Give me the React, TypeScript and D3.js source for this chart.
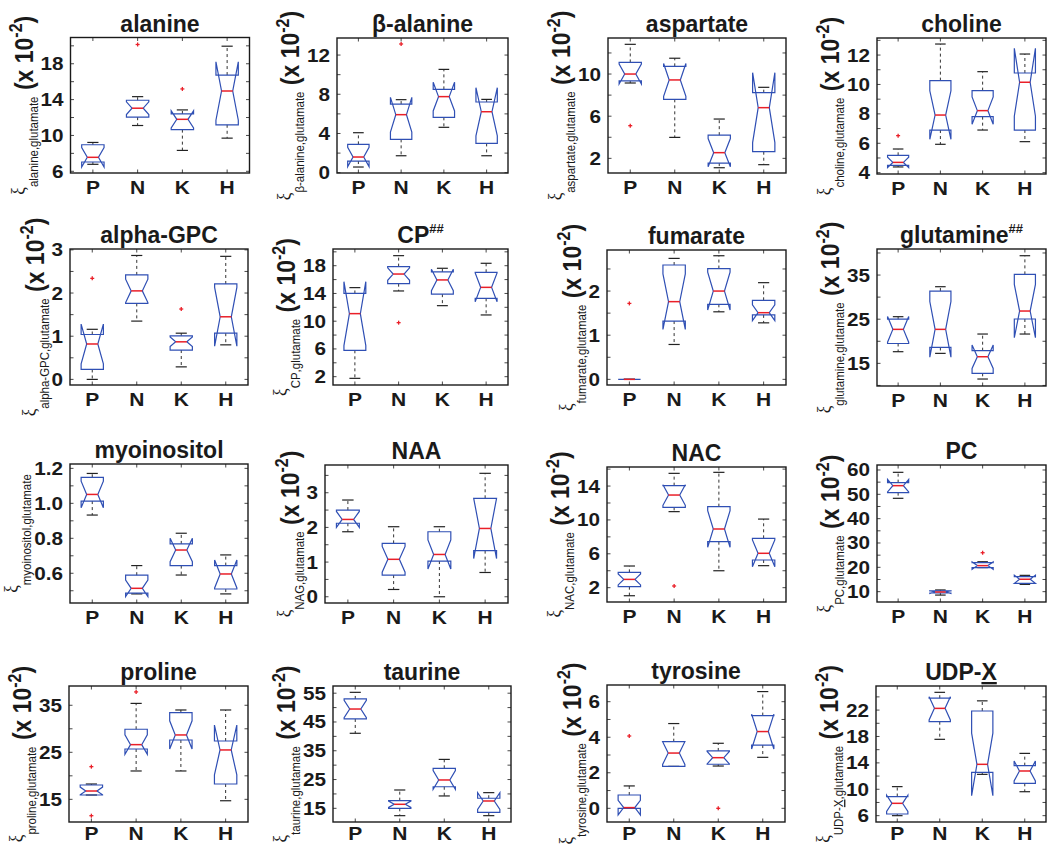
import React from "react";
import * as d3 from "d3";

const groups = ["P", "N", "K", "H"];

// per group: [lower whisker, Q1, notch low, median, notch high, Q3, upper whisker]
const alanine = [
  [6.78, 7.04, 6.48, 7.56, 8.64, 8.96, 9.22],
  [11.11, 12.04, 12.33, 13.04, 13.75, 13.93, 14.33],
  [8.33, 10.65, 10.85, 11.8, 12.75, 12.4, 12.85],
  [9.7, 11.19, 11.7, 14.96, 18.22, 16.74, 19.96],
];
const alanineOut = [[], [20.15], [15.19], []];

const betaAlanine = [
  [0.58, 1.19, 0.62, 1.6, 2.58, 2.89, 4.08],
  [1.73, 3.4, 4.15, 5.92, 7.69, 7.0, 7.45],
  [4.63, 5.65, 6.3, 7.76, 9.22, 8.5, 10.54],
  [1.73, 2.99, 3.77, 6.22, 8.67, 7.21, 7.48],
];
const betaAlanineOut = [[], [13.13], [], []];

const aspartate = [
  [9.15, 9.35, 9.05, 10.0, 10.95, 11.1, 12.82],
  [3.99, 7.6, 7.88, 9.44, 11.0, 10.73, 11.5],
  [1.11, 1.55, 1.2, 2.54, 3.88, 4.2, 5.73],
  [1.4, 2.63, 3.49, 6.81, 10.13, 8.23, 8.74],
];
const aspartateOut = [[5.1], [], [], []];

const choline = [
  [4.39, 4.5, 4.35, 4.7, 5.05, 5.18, 5.61],
  [5.93, 6.9, 6.27, 7.92, 9.57, 10.26, 12.75],
  [6.9, 7.81, 7.29, 8.22, 9.15, 9.58, 10.87],
  [6.11, 6.9, 7.84, 10.15, 12.46, 10.78, 12.07],
];
const cholineOut = [[6.52], [], [], []];

const alphaGPC = [
  [0.0, 0.23, 0.36, 0.82, 1.28, 1.04, 1.16],
  [1.35, 1.76, 1.78, 2.05, 2.32, 2.42, 2.87],
  [0.29, 0.68, 0.76, 0.87, 0.98, 1.01, 1.07],
  [0.8, 1.07, 0.77, 1.45, 2.13, 2.21, 2.85],
];
const alphaGPCOut = [[2.34], [], [1.63], []];

const cp = [
  [1.76, 5.8, 6.48, 11.09, 15.7, 14.0, 14.84],
  [14.36, 15.41, 15.9, 16.8, 17.7, 17.87, 19.45],
  [12.24, 13.9, 14.4, 15.95, 17.5, 17.1, 17.63],
  [10.9, 13.3, 12.8, 14.88, 16.96, 17.05, 18.35],
];
const cpOut = [[], [9.79], [], []];

const fumarate = [
  [0, 0, 0, 0, 0, 0, 0],
  [0.79, 1.32, 1.13, 1.76, 2.39, 2.59, 2.74],
  [1.53, 1.7, 1.57, 2.0, 2.43, 2.51, 2.8],
  [1.28, 1.46, 1.33, 1.51, 1.69, 1.79, 2.19],
];
const fumarateOut = [[1.72], [], [], []];

const glutamine = [
  [17.64, 19.5, 19.8, 22.7, 25.6, 25.0, 25.57],
  [17.26, 18.6, 16.4, 22.7, 29.0, 31.38, 32.36],
  [11.45, 12.74, 13.85, 16.5, 19.15, 17.87, 21.64],
  [21.64, 25.04, 20.8, 26.85, 32.9, 35.15, 39.38],
];
const glutamineOut = [[], [], [], []];

const myoinositol = [
  [0.933, 1.013, 0.975, 1.051, 1.127, 1.149, 1.171],
  [0.482, 0.486, 0.467, 0.514, 0.561, 0.589, 0.644],
  [0.59, 0.644, 0.666, 0.733, 0.8, 0.768, 0.829],
  [0.482, 0.51, 0.516, 0.596, 0.676, 0.644, 0.705],
];
const myoinositolOut = [[], [], [], []];

const naa = [
  [1.875, 2.12, 2.0, 2.23, 2.46, 2.5, 2.79],
  [0.21, 0.625, 0.71, 1.08, 1.45, 1.54, 2.02],
  [0.0, 1.03, 0.8, 1.22, 1.64, 1.875, 2.02],
  [0.7, 1.33, 1.1, 1.97, 2.84, 2.84, 3.56],
];
const naaOut = [[], [], [], []];

const nac = [
  [1.05, 2.12, 2.33, 2.98, 3.63, 3.81, 4.56],
  [10.98, 11.49, 11.73, 12.94, 14.15, 14.05, 15.5],
  [4.0, 7.43, 6.76, 8.93, 11.1, 11.57, 15.62],
  [4.6, 5.27, 4.48, 6.06, 7.64, 7.83, 10.1],
];
const nacOut = [[], [2.2], [], []];

const pc = [
  [48.36, 50.68, 50.96, 53.56, 56.16, 54.8, 59.04],
  [8.6, 9.45, 9.3, 9.86, 10.4, 10.3, 10.7],
  [19.9, 19.9, 19.2, 20.7, 22.2, 21.9, 22.3],
  [13.0, 13.4, 13.4, 15.1, 16.8, 16.2, 16.7],
];
const pcOut = [[], [], [26.0], []];

const proline = [
  [15.92, 15.92, 15.95, 16.77, 17.6, 18.05, 18.26],
  [21.03, 25.7, 24.57, 26.63, 28.7, 29.9, 35.4],
  [21.03, 27.62, 25.7, 28.69, 31.7, 33.44, 34.0],
  [14.7, 18.26, 20.2, 25.5, 30.8, 27.4, 34.0],
];
const prolineOut = [[21.95, 11.52], [37.84], [], []];

const taurine = [
  [41.07, 46.05, 46.5, 49.5, 52.5, 53.0, 55.3],
  [12.45, 15.0, 15.3, 16.4, 17.5, 17.67, 21.37],
  [19.3, 22.5, 21.6, 24.85, 28.1, 28.9, 32.0],
  [12.45, 13.6, 14.65, 17.55, 20.45, 18.5, 20.45],
];
const taurineOut = [[], [], [], []];

const tyrosine = [
  [0.0, 0.0, -0.37, 0.04, 0.45, 0.75, 1.26],
  [2.36, 2.36, 2.47, 3.11, 3.75, 3.75, 4.77],
  [2.38, 2.48, 2.5, 2.85, 3.2, 3.23, 3.66],
  [2.87, 3.56, 3.34, 4.32, 5.3, 5.22, 6.57],
];
const tyrosineOut = [[4.07], [], [0.0], []];

const udpX = [
  [6.0, 6.25, 6.64, 7.87, 9.1, 8.9, 10.4],
  [17.57, 20.24, 20.5, 22.26, 24.03, 23.8, 24.69],
  [12.26, 12.57, 9.03, 13.78, 18.5, 21.86, 23.4],
  [9.63, 10.9, 11.26, 12.77, 14.28, 13.58, 15.44],
];
const udpXOut = [[], [], [], []];

// titles: [main text, superscript, underlined tail]
const titles = [
  ["alanine", "", ""], ["\u03b2-alanine", "", ""], ["aspartate", "", ""], ["choline", "", ""],
  ["alpha-GPC", "", ""], ["CP", "##", ""], ["fumarate", "", ""], ["glutamine", "##", ""],
  ["myoinositol", "", ""], ["NAA", "", ""], ["NAC", "", ""], ["PC", "", ""],
  ["proline", "", ""], ["taurine", "", ""], ["tyrosine", "", ""], ["UDP-", "", "X"],
];
const subscripts = [
  ["alanine", ""], ["\u03b2-alanine", ""], ["aspartate", ""], ["choline", ""],
  ["alpha-GPC", ""], ["CP", ""], ["fumarate", ""], ["glutamine", ""],
  ["myoinositol", ""], ["NAG", ""], ["NAC", ""], ["PC", ""],
  ["proline", ""], ["taurine", ""], ["tyrosine", ""], ["UDP-", "X"],
];
const stats = [alanine, betaAlanine, aspartate, choline, alphaGPC, cp, fumarate, glutamine,
  myoinositol, naa, nac, pc, proline, taurine, tyrosine, udpX];
const outs = [alanineOut, betaAlanineOut, aspartateOut, cholineOut, alphaGPCOut, cpOut, fumarateOut, glutamineOut,
  myoinositolOut, naaOut, nacOut, pcOut, prolineOut, taurineOut, tyrosineOut, udpXOut];
const yDomains = [
  [5.81, 20.93], [-0.03, 13.74], [0.61, 13.42], [3.91, 13.16],
  [-0.13, 3.02], [0.8, 20.41], [-0.128, 2.93], [9.87, 40.9],
  [0.43, 1.225], [-0.18, 3.8], [0.31, 16.25], [5.75, 62.05],
  [10.18, 39.1], [10.25, 57.5], [-0.77, 6.94], [5.04, 25.65],
];
const yTickLabels = [
  ["6", "10", "14", "18"], ["0", "4", "8", "12"], ["2", "6", "10"], ["4", "6", "8", "10", "12"],
  ["0", "1", "2", "3"], ["2", "6", "10", "14", "18"], ["0", "1", "2"], ["15", "25", "35"],
  ["0.6", "0.8", "1.0", "1.2"], ["0", "1", "2", "3"], ["2", "6", "10", "14"], ["10", "20", "30", "40", "50", "60"],
  ["15", "25", "35"], ["15", "25", "35", "45", "55"], ["0", "2", "4", "6"], ["6", "10", "14", "18", "22"],
];
const yTickSteps = [2, 2, 2, 1, 0.5, 2, 0.5, 5, 0.1, 0.5, 2, 5, 5, 5, 1, 2];
const scaledBy100 = [true, true, true, true, true, true, true, true, false, true, true, true, true, true, true, true];

// axes rectangles [left, right, top, bottom] in px
const rects = [
  [70.5, 249.5, 37.5, 173], [337, 508, 38, 173], [608, 786, 38, 173], [877, 1046, 38, 174],
  [70, 248, 249, 385], [333, 508, 249, 385], [607, 786, 250, 385], [877, 1046, 249, 386],
  [70, 248, 464, 603], [325, 508, 465, 603], [607, 786, 467, 602], [877, 1046, 465, 602],
  [69, 248, 686, 822], [333, 511, 686, 822], [607, 785, 685, 822], [876, 1046, 686, 822],
];

const FONT = "'Liberation Sans', Arial, Helvetica, sans-serif";
const BLUE = "#2f4fb4";
const RED = "#ea1f28";
const AXIS = "#1a1a1a";
const INK = "#1a1a1a";

function labelWidth(s: string) {
  let w = 0;
  for (const c of s) w += c === "." ? 5.8 : 11.5;
  return w;
}

function Panel({ i }: { i: number }) {
  const [l, r, t, b] = rects[i];
  const dom = yDomains[i];
  const x = d3.scaleLinear().domain([0.5, 4.5]).range([l, r]);
  const y = d3.scaleLinear().domain(dom).range([b, t]);
  const hw = 0.25;
  const line = d3.line<number[]>().x((d) => x(d[0])).y((d) => y(d[1]));
  const step = yTickSteps[i];
  const minor = d3.range(Math.ceil(dom[0] / step - 1e-6), Math.floor(dom[1] / step + 1e-6) + 1).map((k) => k * step);
  const maxW = d3.max(yTickLabels[i], labelWidth) as number;
  const L = l - 7 - maxW - 8;
  const cy = (t + b) / 2;
  const [tMain, tSup, tUnder] = titles[i];
  const [sMain, sUnder] = subscripts[i];
  const tk = 3.5;
  const xLabY = Math.min(b + 20.5, 840);

  return (
    <g>
      {/* title */}
      <text x={(l + r) / 2} y={t - 6} textAnchor="middle" fontFamily={FONT} fontWeight="bold" fontSize={23} fill={INK}>
        {tMain}
        {tUnder && <tspan textDecoration="underline">{tUnder}</tspan>}
        {tSup && <tspan fontSize={13} dy={-10}>{tSup}</tspan>}
      </text>
      {/* y label */}
      <text transform={`translate(${L},${cy}) rotate(-90) scale(1,1.12)`} textAnchor="middle" fontFamily={FONT} fill={INK}>
        <tspan fontFamily="'Liberation Serif', 'DejaVu Serif', serif" fontSize={17} dy={-8}>{"\u03be"}</tspan>
        <tspan fontSize={11.5} dy={12.5}>{sMain}</tspan>
        {sUnder && <tspan fontSize={11.5} textDecoration="underline">{sUnder}</tspan>}
        <tspan fontSize={11.5}>,glutamate</tspan>
        {scaledBy100[i] && (
          <>
            <tspan fontSize={23} fontWeight="bold" dy={-4.5}>{" (x 10"}</tspan>
            <tspan fontSize={16} fontWeight="bold" dy={-9}>-2</tspan>
            <tspan fontSize={23} fontWeight="bold" dy={9}>)</tspan>
          </>
        )}
      </text>
      {/* y tick labels */}
      {yTickLabels[i].map((s) => (
        <text key={s} transform={`translate(${l - 7},${y(+s)}) scale(1.15,1)`} dy="0.36em" textAnchor="end"
          fontFamily={FONT} fontWeight="bold" fontSize={18} fill={INK}>
          {s}
        </text>
      ))}
      {/* x labels */}
      {groups.map((g, k) => (
        <text key={g} transform={`translate(${x(k + 1)},${xLabY}) scale(1.2,1)`} textAnchor="middle"
          fontFamily={FONT} fontWeight="bold" fontSize={17.5} fill={INK}>
          {g}
        </text>
      ))}
      {/* ticks */}
      {minor.map((v) => (
        <g key={v} stroke={AXIS} strokeWidth={0.8}>
          <line x1={l} x2={l + tk} y1={y(v)} y2={y(v)} />
          <line x1={r} x2={r - tk} y1={y(v)} y2={y(v)} />
        </g>
      ))}
      {groups.map((g, k) => (
        <g key={g} stroke={AXIS} strokeWidth={0.8}>
          <line x1={x(k + 1)} x2={x(k + 1)} y1={b} y2={b - tk} />
          <line x1={x(k + 1)} x2={x(k + 1)} y1={t} y2={t + tk} />
        </g>
      ))}
      {/* boxes */}
      {stats[i].map((s, k) => {
        const c = k + 1;
        const [wLo, q1, nLo, med, nHi, q3, wHi] = s;
        const pts = [
          [c - hw, q1], [c - hw, nLo], [c - hw / 2, med], [c - hw, nHi], [c - hw, q3],
          [c + hw, q3], [c + hw, nHi], [c + hw / 2, med], [c + hw, nLo], [c + hw, q1],
        ];
        return (
          <g key={k}>
            <line x1={x(c)} x2={x(c)} y1={y(q3)} y2={y(wHi)} stroke="#333" strokeWidth={1} strokeDasharray="3,3" />
            <line x1={x(c)} x2={x(c)} y1={y(q1)} y2={y(wLo)} stroke="#333" strokeWidth={1} strokeDasharray="3,3" />
            <line x1={x(c - hw / 2)} x2={x(c + hw / 2)} y1={y(wHi)} y2={y(wHi)} stroke="#222" strokeWidth={1.2} />
            <line x1={x(c - hw / 2)} x2={x(c + hw / 2)} y1={y(wLo)} y2={y(wLo)} stroke="#222" strokeWidth={1.2} />
            <path d={line(pts) + "Z"} fill="none" stroke={BLUE} strokeWidth={1.2} strokeLinejoin="miter" />
            <line x1={x(c - hw / 2)} x2={x(c + hw / 2)} y1={y(med)} y2={y(med)} stroke={RED} strokeWidth={1.5} />
            {outs[i][k].map((o, j) => (
              <g key={j} stroke={RED} strokeWidth={1.3}>
                <line x1={x(c) - 2} x2={x(c) + 2} y1={y(o)} y2={y(o)} />
                <line x1={x(c)} x2={x(c)} y1={y(o) - 2} y2={y(o) + 2} />
              </g>
            ))}
          </g>
        );
      })}
      {/* frame */}
      <rect x={l} y={t} width={r - l} height={b - t} fill="none" stroke={AXIS} strokeWidth={1.4} />
    </g>
  );
}

export default function App() {
  return (
    <svg width={1053} height={844} style={{ position: "absolute", left: 0, top: 0, background: "#fff" }}>
      <rect width={1053} height={844} fill="#fff" />
      {rects.map((_, i) => (
        <Panel key={i} i={i} />
      ))}
    </svg>
  );
}
